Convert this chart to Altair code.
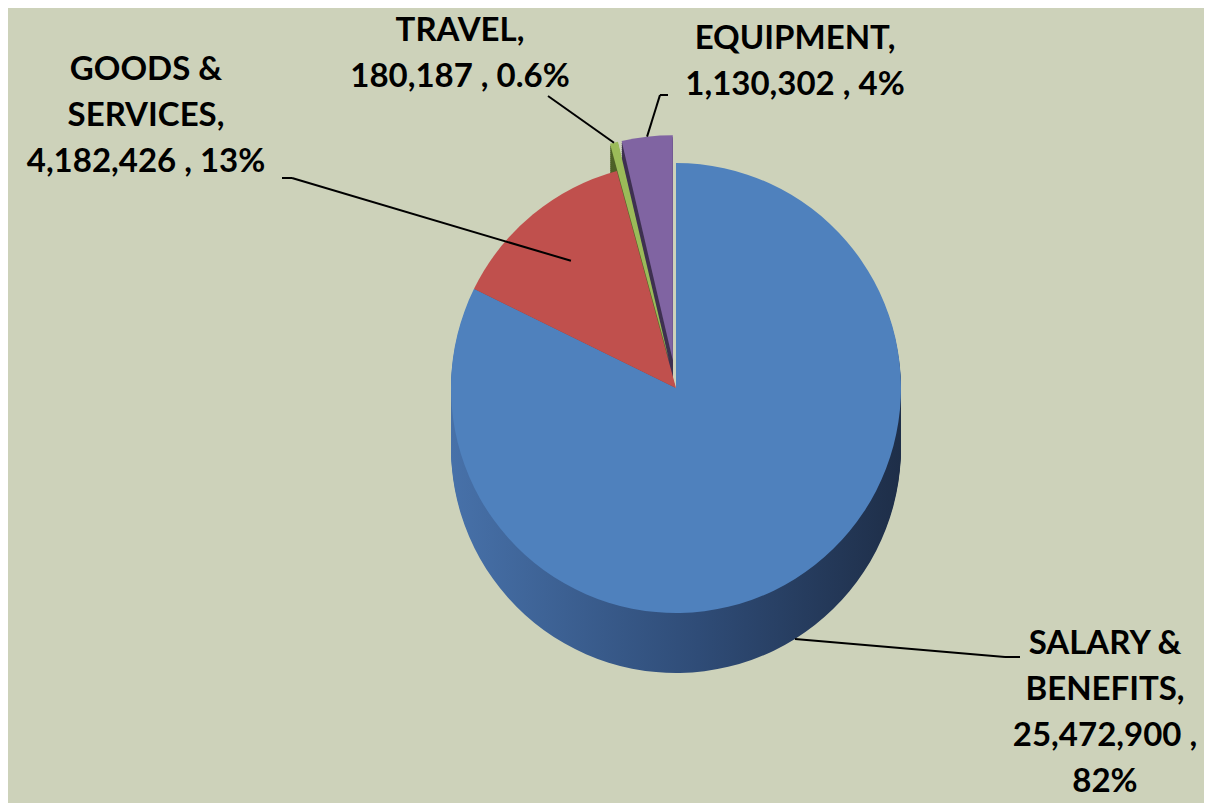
import altair as alt
import pandas as pd

# ---- data ----
CATEGORIES = ["SALARY & BENEFITS", "GOODS & SERVICES", "TRAVEL", "EQUIPMENT"]
VALUES = [25472900, 4182426, 180187, 1130302]
PCT_LABELS = ["82%", "13%", "0.6%", "4%"]
NAME_LINES = ["SALARY &\nBENEFITS,", "GOODS &\nSERVICES,", "TRAVEL,", "EQUIPMENT,"]
PCT_SEP = [" ,\n", " , ", " , ", " , "]

# ---- style / layout constants ----
TOP_COLORS = ["#4F81BD", "#C0504D", "#9BBB59", "#8064A2"]
SIDE_COLORS = ["#2F4C78", "#8E3B39", "#4F6228", "#3F3151"]
EXPLODE = [0, 0, 28, 28]
CX, CY, R, DEPTH = 668, 380, 225, 60
DEPTHS = list(range(DEPTH, 0, -2))
BG = "#CDD2BA"

LABEL_X = [1097, 138, 452, 787]
LABEL_Y = [646, 72, 33, 41]
LEADER_R = [225, 165, 225, 225]
LEADER_DROP = [60, 0, 0, 0]
ELBOW_X = [997, 284, 540, 652]
ELBOW_Y = [649, 170, 88, 87]
END_X = [1012, 274, 540, 660]
END_Y = [649, 170, 88, 87]

labels = [f"{n}\n{v:,}{s}{p}" for n, v, s, p in zip(NAME_LINES, VALUES, PCT_SEP, PCT_LABELS)]

base = pd.DataFrame({
    "category": CATEGORIES,
    "value": VALUES,
    "order": list(range(len(CATEGORIES))),
    "explode": EXPLODE,
    "label": labels,
    "lx": LABEL_X,
    "ly": LABEL_Y,
    "lr": LEADER_R,
    "drop": LEADER_DROP,
    "ex": ELBOW_X,
    "ey": ELBOW_Y,
    "tx": END_X,
    "ty": END_Y,
})
top_df = base.assign(depth=0)
side_df = pd.concat([base.assign(depth=d) for d in DEPTHS], ignore_index=True)


def geo(ch):
    return (
        ch.transform_joinaggregate(total="sum(value)", groupby=["depth"])
        .transform_window(cum="sum(value)", sort=[alt.SortField("order")],
                          groupby=["depth"], frame=[None, 0])
        .transform_calculate(t0="(datum.cum - datum.value) / datum.total * 2 * PI")
        .transform_calculate(t1="datum.cum / datum.total * 2 * PI")
        .transform_calculate(mid="(datum.t0 + datum.t1) / 2")
        .transform_calculate(px=f"{CX} + datum.explode * sin(datum.mid)")
        .transform_calculate(py=f"{CY} - datum.explode * cos(datum.mid) + datum.depth")
    )


arc_enc = dict(
    theta=alt.Theta("t0:Q", scale=None),
    theta2=alt.Theta2("t1:Q"),
    x=alt.X("px:Q", scale=None, axis=None),
    y=alt.Y("py:Q", scale=None, axis=None),
)

salary_grad = alt.Gradient(
    gradient="linear",
    stops=[
        alt.GradientStop(color="#4771A9", offset=0),
        alt.GradientStop(color="#2F4C77", offset=0.55),
        alt.GradientStop(color="#1E2E48", offset=1),
    ],
    x1=0, x2=1, y1=0, y2=0,
)

salary_side = geo(alt.Chart(side_df)).transform_filter(
    f"datum.category == '{CATEGORIES[0]}'"
).mark_arc(radius=R, fill=salary_grad, strokeWidth=0).encode(**arc_enc)

other_side = geo(alt.Chart(side_df)).transform_filter(
    f"datum.category != '{CATEGORIES[0]}'"
).mark_arc(radius=R, strokeWidth=0).encode(
    color=alt.Color("category:N", scale=alt.Scale(domain=CATEGORIES, range=SIDE_COLORS), legend=None),
    **arc_enc,
)

tops = geo(alt.Chart(top_df)).mark_arc(radius=R, strokeWidth=0).encode(
    color=alt.Color("category:N", scale=alt.Scale(domain=CATEGORIES, range=TOP_COLORS), legend=None),
    **arc_enc,
)

lead = (
    geo(alt.Chart(top_df))
    .transform_calculate(sx=f"{CX} + (datum.lr + datum.explode) * sin(datum.mid)")
    .transform_calculate(sy=f"{CY} - (datum.lr + datum.explode) * cos(datum.mid) + datum.drop")
)
rule1 = lead.mark_rule(color="black", strokeWidth=2).encode(
    x=alt.X("sx:Q", scale=None, axis=None),
    y=alt.Y("sy:Q", scale=None, axis=None),
    x2=alt.X2("ex:Q"),
    y2=alt.Y2("ey:Q"),
)
rule2 = alt.Chart(top_df).mark_rule(color="black", strokeWidth=2).encode(
    x=alt.X("ex:Q", scale=None, axis=None),
    y=alt.Y("ey:Q", scale=None, axis=None),
    x2=alt.X2("tx:Q"),
    y2=alt.Y2("ty:Q"),
)

texts = alt.Chart(top_df).mark_text(
    font="Lato", fontSize=33, fontWeight="bold", lineBreak="\n", lineHeight=46,
    align="center", baseline="alphabetic", color="black",
).encode(
    x=alt.X("lx:Q", scale=None, axis=None),
    y=alt.Y("ly:Q", scale=None, axis=None),
    text="label:N",
)

chart = (
    alt.layer(salary_side, other_side, tops, rule1, rule2, texts)
    .resolve_scale(color="independent")
    .properties(width=1196, height=795, background=BG, padding=0,
                autosize=alt.AutoSizeParams(type="none"))
    .configure_view(strokeWidth=0)
)

chart.save("out.html", embed_options={"renderer": "svg", "actions": False})
